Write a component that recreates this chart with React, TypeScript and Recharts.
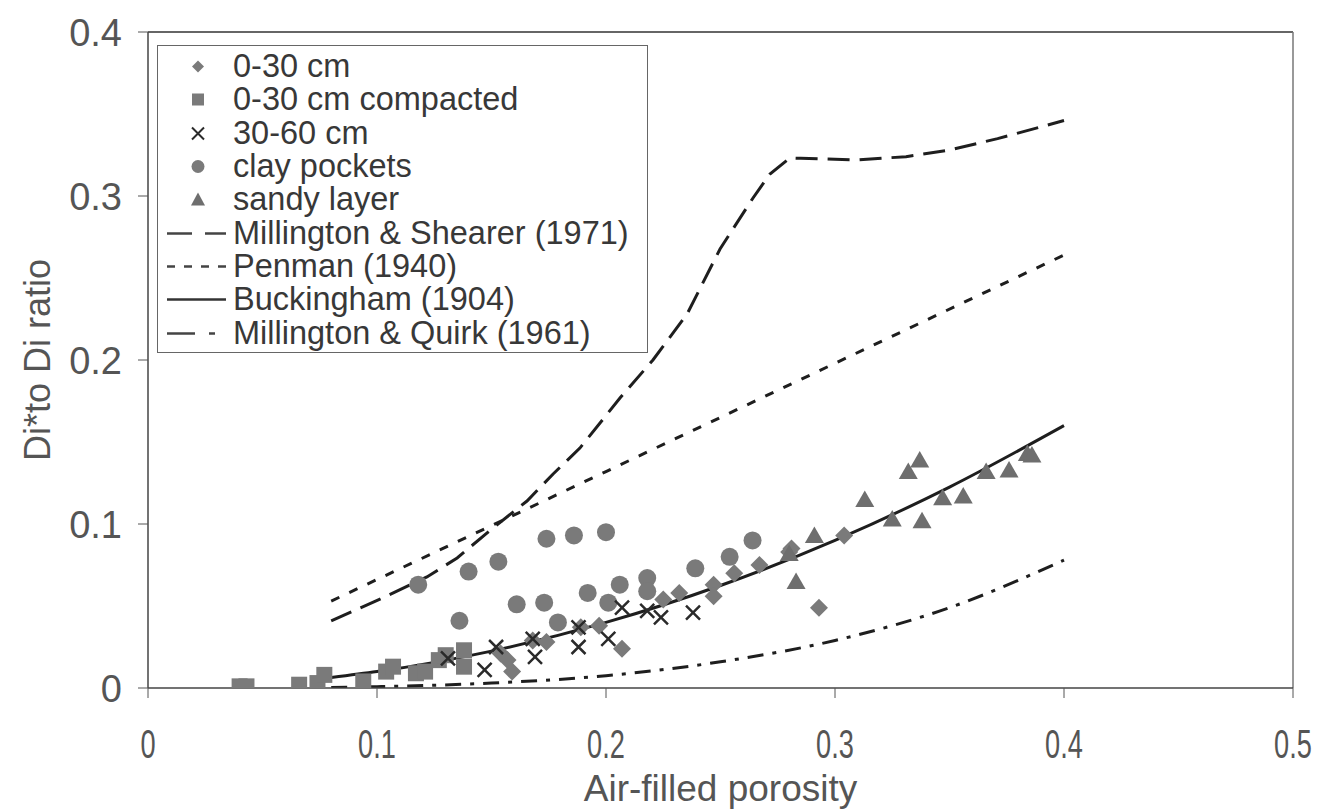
import React from 'react';
import { ComposedChart, XAxis, YAxis, Scatter, Line, Legend, ReferenceLine } from 'recharts';

// ---- axis ticks ----
const xTicks = [0, 0.1, 0.2, 0.3, 0.4, 0.5];
const yTicks = [0, 0.1, 0.2, 0.3, 0.4];

// ---- measured series ----
const topsoilX = [0.154, 0.157, 0.159, 0.168, 0.174, 0.189, 0.197, 0.207, 0.225, 0.232, 0.247, 0.247, 0.256, 0.267, 0.280, 0.281, 0.293, 0.304];
const topsoilY = [0.021, 0.017, 0.010, 0.029, 0.028, 0.037, 0.038, 0.024, 0.054, 0.058, 0.063, 0.056, 0.070, 0.075, 0.083, 0.085, 0.049, 0.093];

const compactedX = [0.040, 0.043, 0.066, 0.074, 0.077, 0.094, 0.104, 0.107, 0.117, 0.121, 0.127, 0.130, 0.138, 0.138];
const compactedY = [0.001, 0.001, 0.002, 0.003, 0.008, 0.004, 0.010, 0.013, 0.009, 0.010, 0.017, 0.020, 0.023, 0.013];

const subsoilX = [0.131, 0.147, 0.152, 0.168, 0.169, 0.188, 0.188, 0.201, 0.207, 0.218, 0.224, 0.238];
const subsoilY = [0.018, 0.011, 0.025, 0.030, 0.019, 0.025, 0.037, 0.030, 0.049, 0.047, 0.043, 0.046];

const clayX = [0.118, 0.136, 0.140, 0.153, 0.161, 0.173, 0.174, 0.179, 0.186, 0.192, 0.200, 0.201, 0.206, 0.218, 0.218, 0.239, 0.254, 0.264];
const clayY = [0.063, 0.041, 0.071, 0.077, 0.051, 0.052, 0.091, 0.040, 0.093, 0.058, 0.095, 0.052, 0.063, 0.067, 0.059, 0.073, 0.080, 0.090];

const sandyX = [0.280, 0.283, 0.291, 0.313, 0.325, 0.332, 0.337, 0.338, 0.347, 0.356, 0.366, 0.376, 0.384, 0.386];
const sandyY = [0.082, 0.065, 0.093, 0.115, 0.103, 0.132, 0.139, 0.102, 0.116, 0.117, 0.132, 0.133, 0.143, 0.142];

// ---- model curves ----
const shearerX = [0.08, 0.1026, 0.1218, 0.135, 0.1507, 0.1655, 0.1769, 0.1886, 0.2061, 0.2205, 0.2354, 0.2498, 0.2642, 0.2716, 0.2803, 0.285, 0.31, 0.331, 0.35, 0.371, 0.4];
const shearerY = [0.041, 0.055, 0.0677, 0.0793, 0.0976, 0.114, 0.1305, 0.1463, 0.1768, 0.200, 0.228, 0.2677, 0.2988, 0.3134, 0.3232, 0.323, 0.322, 0.324, 0.328, 0.335, 0.346];

const penmanX = [0.08, 0.15, 0.2, 0.3, 0.4];
const penmanY = [0.053, 0.099, 0.132, 0.198, 0.264];

const buckX = [0.08, 0.1, 0.15, 0.2, 0.25, 0.3, 0.35, 0.4];
const buckY = [0.0064, 0.01, 0.0225, 0.04, 0.0625, 0.09, 0.1225, 0.16];

const quirkX = [0.08, 0.1, 0.15, 0.2, 0.25, 0.3, 0.35, 0.4];
const quirkY = [0.0003, 0.0008, 0.003, 0.0075, 0.016, 0.029, 0.049, 0.078];

const zip = (xs: number[], ys: number[]) => xs.map((x, i) => ({ x, y: ys[i] }));

const FONT = '"Liberation Sans", Arial, sans-serif';
const MARK = '#7a7a7a';
const LINE = '#1e1e1e';

// ---- marker shapes ----
const Diamond = (p: any) => (
  <path d={`M${p.cx},${p.cy - 9}L${p.cx + 9},${p.cy}L${p.cx},${p.cy + 9}L${p.cx - 9},${p.cy}Z`} fill={MARK} />
);
const Square = (p: any) => <rect x={p.cx - 8} y={p.cy - 8} width={16} height={16} fill={MARK} />;
const Cross = (p: any) => (
  <path d={`M${p.cx - 7},${p.cy - 7}L${p.cx + 7},${p.cy + 7}M${p.cx + 7},${p.cy - 7}L${p.cx - 7},${p.cy + 7}`} stroke="#2a2a2a" strokeWidth={2.5} fill="none" />
);
const Circle = (p: any) => <circle cx={p.cx} cy={p.cy} r={9} fill={MARK} />;
const Triangle = (p: any) => (
  <path d={`M${p.cx},${p.cy - 9}L${p.cx + 9.5},${p.cy + 7.5}L${p.cx - 9.5},${p.cy + 7.5}Z`} fill={'#6e6e6e'} />
);

// ---- ticks ----
const XTick = (p: any) => (
  <g transform={`translate(${p.x},${p.y + 58}) scale(0.68,1)`}>
    <text x={0} y={0} textAnchor="middle" fontSize={40} fill="#555" fontFamily={FONT}>
      {p.payload.value}
    </text>
  </g>
);
const YTick = (p: any) => (
  <text x={p.x - 14} y={p.y + 14} textAnchor="end" fontSize={38} fill="#555" fontFamily={FONT}>
    {p.payload.value}
  </text>
);

// ---- legend ----
const legendRows = [
  { name: '0-30 cm', kind: 'diamond' },
  { name: '0-30 cm compacted', kind: 'square' },
  { name: '30-60 cm', kind: 'cross' },
  { name: 'clay pockets', kind: 'circle' },
  { name: 'sandy layer', kind: 'triangle' },
  { name: 'Millington & Shearer (1971)', kind: 'ms' },
  { name: 'Penman (1940)', kind: 'pen' },
  { name: 'Buckingham (1904)', kind: 'buck' },
  { name: 'Millington & Quirk (1961)', kind: 'mq' },
];

const legendSymbol = (kind: string) => {
  const cx = 40, cy = 16.5;
  switch (kind) {
    case 'diamond':
      return <path d={`M${cx},${cy - 6}L${cx + 6},${cy}L${cx},${cy + 6}L${cx - 6},${cy}Z`} fill={MARK} />;
    case 'square':
      return <rect x={cx - 6} y={cy - 6} width={12} height={12} fill={MARK} />;
    case 'cross':
      return <path d={`M${cx - 6},${cy - 6}L${cx + 6},${cy + 6}M${cx + 6},${cy - 6}L${cx - 6},${cy + 6}`} stroke="#2a2a2a" strokeWidth={2} />;
    case 'circle':
      return <circle cx={cx} cy={cy} r={6.5} fill={MARK} />;
    case 'triangle':
      return <path d={`M${cx},${cy - 7}L${cx + 7},${cy + 6}L${cx - 7},${cy + 6}Z`} fill="#6e6e6e" />;
    case 'ms':
      return <line x1={9} y1={cy} x2={68} y2={cy} stroke="#444" strokeWidth={2.5} strokeDasharray="25 13" />;
    case 'pen':
      return <line x1={9} y1={cy} x2={68} y2={cy} stroke="#444" strokeWidth={2.5} strokeDasharray="8 9" />;
    case 'buck':
      return <line x1={9} y1={cy} x2={68} y2={cy} stroke="#333" strokeWidth={2.5} />;
    default:
      return <line x1={9} y1={cy} x2={68} y2={cy} stroke="#444" strokeWidth={2.5} strokeDasharray="28 14 6 20" />;
  }
};

const renderLegend = () => (
  <div
    style={{
      width: 491,
      height: 308,
      boxSizing: 'border-box',
      border: '1.5px solid #666',
      background: '#fff',
      paddingTop: 4,
      fontFamily: FONT,
      fontSize: 32.5,
      color: '#383838',
    }}
  >
    {legendRows.map((r) => (
      <div key={r.name} style={{ display: 'flex', alignItems: 'center', height: 33.3 }}>
        <svg width={75} height={33} style={{ flex: 'none' }}>
          {legendSymbol(r.kind)}
        </svg>
        <span style={{ whiteSpace: 'nowrap', lineHeight: '33px' }}>{r.name}</span>
      </div>
    ))}
  </div>
);

export default function App() {
  return (
    <div style={{ position: 'absolute', left: 0, top: 0, width: 1317, height: 811, overflow: 'hidden', background: '#fff' }}>
      <ComposedChart width={1317} height={811} margin={{ top: 32, right: 24, bottom: 0, left: 0 }}>
        <XAxis
          type="number"
          dataKey="x"
          domain={[0, 0.5]}
          ticks={xTicks}
          allowDataOverflow
          height={123}
          tickSize={10}
          tickLine={{ stroke: '#555' }}
          axisLine={{ stroke: '#444', strokeWidth: 1.5 }}
          tick={<XTick />}
          label={{ value: 'Air-filled porosity', position: 'insideBottom', offset: 10, fontSize: 37, fill: '#555', fontFamily: FONT }}
        />
        <YAxis
          type="number"
          dataKey="y"
          domain={[0, 0.4]}
          ticks={yTicks}
          allowDataOverflow
          width={148}
          tickSize={10}
          tickLine={{ stroke: '#555' }}
          axisLine={{ stroke: '#444', strokeWidth: 1.5 }}
          tick={<YTick />}
          label={{ value: 'Di*to Di ratio', angle: -90, position: 'insideLeft', offset: 37, fontSize: 36, fill: '#555', fontFamily: FONT, style: { textAnchor: 'middle' } }}
        />
        <ReferenceLine y={0.4} stroke="#333" strokeWidth={1.5} />
        <ReferenceLine x={0.5} stroke="#777" strokeWidth={1.5} />
        <Legend
          layout="vertical"
          align="center"
          verticalAlign="middle"
          wrapperStyle={{ left: 157, top: 45, width: 491, height: 308 }}
          content={renderLegend}
        />

        <Line data={zip(shearerX, shearerY)} dataKey="y" type="linear" stroke={LINE} strokeWidth={3} strokeDasharray="22 10" dot={false} activeDot={false} isAnimationActive={false} legendType="none" />
        <Line data={zip(penmanX, penmanY)} dataKey="y" type="linear" stroke={LINE} strokeWidth={3} strokeDasharray="9 11" dot={false} activeDot={false} isAnimationActive={false} legendType="none" />
        <Line data={zip(buckX, buckY)} dataKey="y" type="monotone" stroke={LINE} strokeWidth={3} dot={false} activeDot={false} isAnimationActive={false} legendType="none" />
        <Line data={zip(quirkX, quirkY)} dataKey="y" type="monotone" stroke={LINE} strokeWidth={3} strokeDasharray="16 9 4 9" dot={false} activeDot={false} isAnimationActive={false} legendType="none" />

        <Scatter data={zip(compactedX, compactedY)} dataKey="y" shape={Square} isAnimationActive={false} legendType="none" />
        <Scatter data={zip(clayX, clayY)} dataKey="y" shape={Circle} isAnimationActive={false} legendType="none" />
        <Scatter data={zip(topsoilX, topsoilY)} dataKey="y" shape={Diamond} isAnimationActive={false} legendType="none" />
        <Scatter data={zip(sandyX, sandyY)} dataKey="y" shape={Triangle} isAnimationActive={false} legendType="none" />
        <Scatter data={zip(subsoilX, subsoilY)} dataKey="y" shape={Cross} isAnimationActive={false} legendType="none" />
      </ComposedChart>
    </div>
  );
}
